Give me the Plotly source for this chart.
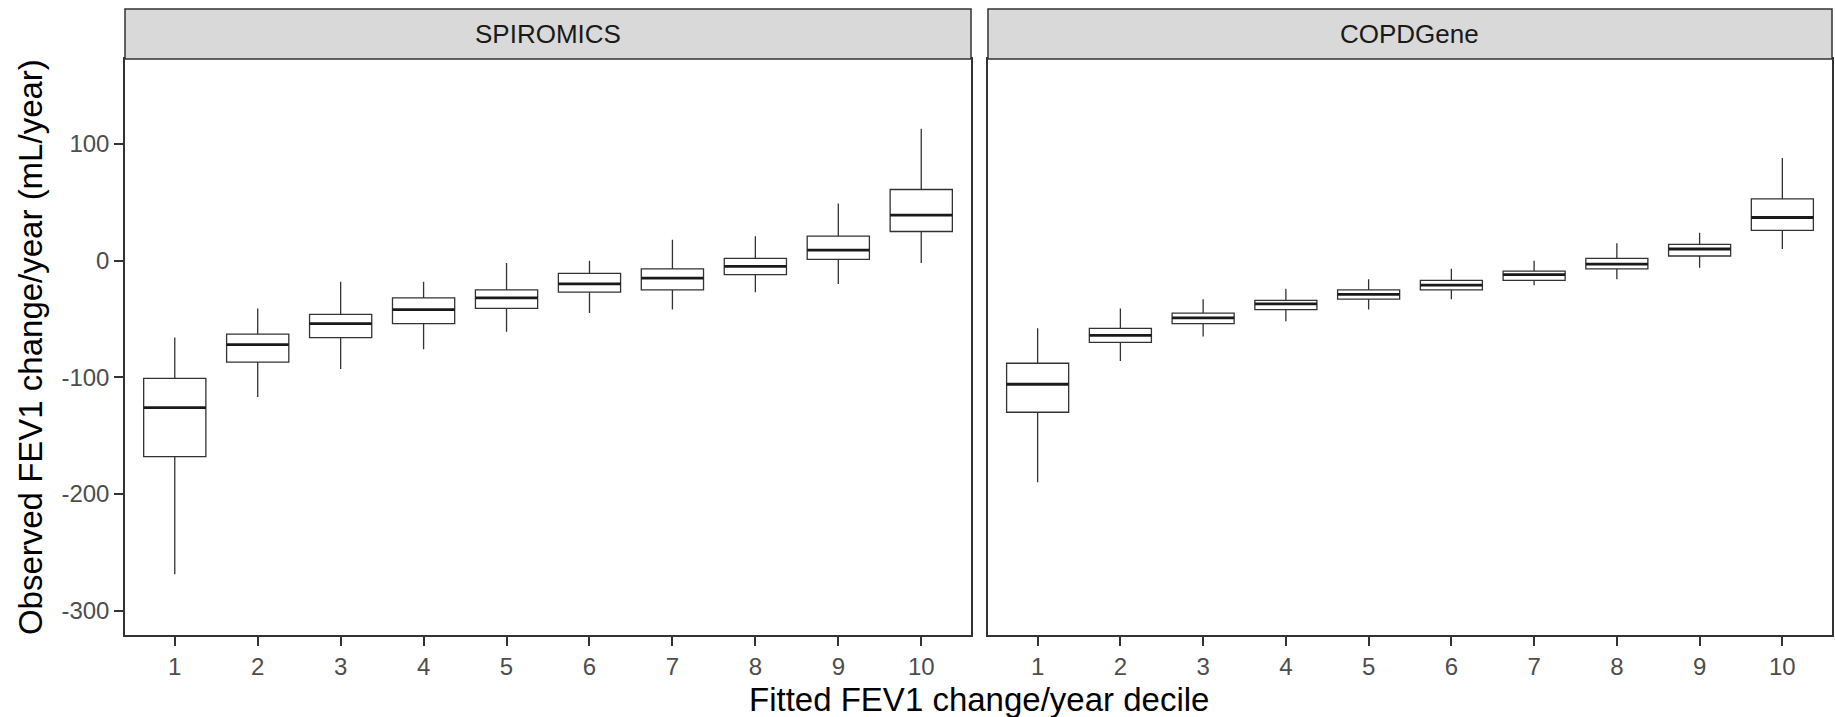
import plotly.graph_objects as go

# ---- data ----
deciles = [1, 2, 3, 4, 5, 6, 7, 8, 9, 10]
tick_labels = ["1", "2", "3", "4", "5", "6", "7", "8", "9", "10"]
panels = ["SPIROMICS", "COPDGene"]

spiro_lower = [-269, -117, -93, -76, -61, -45, -42, -27, -20, -2]
spiro_q1 = [-168, -87, -66, -54, -41, -27, -25, -12, 1, 25]
spiro_median = [-126, -72, -54, -42, -32, -20, -15, -5, 9, 39]
spiro_q3 = [-101, -63, -46, -32, -25, -11, -7, 2, 21, 61]
spiro_upper = [-66, -41, -18, -18, -2, 0, 18, 21, 49, 113]

copd_lower = [-190, -86, -65, -52, -42, -33, -21, -16, -6, 10]
copd_q1 = [-130, -70, -54, -42, -33, -25, -17, -7, 4, 26]
copd_median = [-106, -64, -49, -37, -29, -21, -12, -3, 10, 37]
copd_q3 = [-88, -58, -45, -34, -25, -17, -9, 2, 14, 53]
copd_upper = [-58, -41, -33, -24, -16, -7, 0, 15, 24, 88]

y_ticks = [-300, -200, -100, 0, 100]

# ---- layout constants (pixels) ----
W, H = 1835, 717
L, R, T, B = 125, 1, 59, 82
PW = W - L - R
PH = H - T - B
BOX_W = 0.75
FONT = "Liberation Sans, Arial, Helvetica, sans-serif"
LINE = "#333333"

def px_x(px):
    return (px - L) / PW

def px_y(py):
    return (H - B - py) / PH

dom_left = [0, px_x(972)]
dom_right = [px_x(989), 1]

fig = go.Figure()

series = [
    (spiro_lower, spiro_q1, spiro_median, spiro_q3, spiro_upper, "x", "y"),
    (copd_lower, copd_q1, copd_median, copd_q3, copd_upper, "x2", "y2"),
]

for lo, q1, med, q3, up, xa, ya in series:
    fig.add_trace(go.Box(
        x=deciles, lowerfence=lo, q1=q1, median=med, q3=q3, upperfence=up,
        width=BOX_W, whiskerwidth=0, fillcolor="white",
        line=dict(color=LINE, width=1.3), boxpoints=False,
        showlegend=False, hoverinfo="skip", xaxis=xa, yaxis=ya,
    ))
    mx, my = [], []
    for d, m in zip(deciles, med):
        mx += [d - BOX_W / 2, d + BOX_W / 2, None]
        my += [m, m, None]
    fig.add_trace(go.Scatter(
        x=mx, y=my, mode="lines", line=dict(color="#1a1a1a", width=2.8),
        showlegend=False, hoverinfo="skip", xaxis=xa, yaxis=ya,
    ))

axis_common = dict(
    showgrid=False, zeroline=False, showline=True, mirror=True,
    linecolor=LINE, linewidth=1.5,
)
xcommon = dict(
    axis_common, range=[0.4, 10.6], tickmode="array", tickvals=deciles,
    ticktext=tick_labels, ticks="outside", ticklen=9, tickwidth=1.5,
    tickcolor=LINE, tickfont=dict(family=FONT, size=24, color="#4d4d4d"),
)
yrange = [-321, 172.9]

fig.update_layout(
    width=W, height=H,
    margin=dict(l=L, r=R, t=T, b=B, pad=0),
    paper_bgcolor="white", plot_bgcolor="white",
    xaxis=dict(xcommon, domain=dom_left, anchor="y"),
    xaxis2=dict(xcommon, domain=dom_right, anchor="y2"),
    yaxis=dict(axis_common, range=yrange, domain=[0, 1], anchor="x",
               tickmode="array", tickvals=y_ticks,
               ticktext=[str(v) for v in y_ticks],
               ticks="outside", ticklen=9, tickwidth=1.5, tickcolor=LINE,
               tickfont=dict(family=FONT, size=24, color="#4d4d4d")),
    yaxis2=dict(axis_common, range=yrange, domain=[0, 1], anchor="x2",
                matches="y", showticklabels=False, ticks=""),
    font=dict(family=FONT),
)

# facet strips
strip_y0, strip_y1 = px_y(59), px_y(9)
for name, dom in zip(panels, [dom_left, dom_right]):
    fig.add_shape(type="rect", xref="paper", yref="paper",
                  x0=dom[0], x1=dom[1], y0=strip_y0, y1=strip_y1,
                  fillcolor="#d9d9d9", line=dict(color=LINE, width=1.5),
                  layer="above")
    fig.add_annotation(text=name, xref="paper", yref="paper",
                       x=(dom[0] + dom[1]) / 2, y=px_y(34),
                       xanchor="center", yanchor="middle", showarrow=False,
                       font=dict(family=FONT, size=26, color="#1a1a1a"))

# axis titles
fig.add_annotation(text="Fitted FEV1 change/year decile", xref="paper", yref="paper",
                   x=0.5, y=px_y(699), xanchor="center", yanchor="middle",
                   showarrow=False, font=dict(family=FONT, size=33, color="black"))
fig.add_annotation(text="Observed FEV1 change/year (mL/year)", xref="paper", yref="paper",
                   x=px_x(30), y=px_y(347), xanchor="center", yanchor="middle",
                   textangle=-90, showarrow=False,
                   font=dict(family=FONT, size=33, color="black"))

fig.write_html("out.html")
